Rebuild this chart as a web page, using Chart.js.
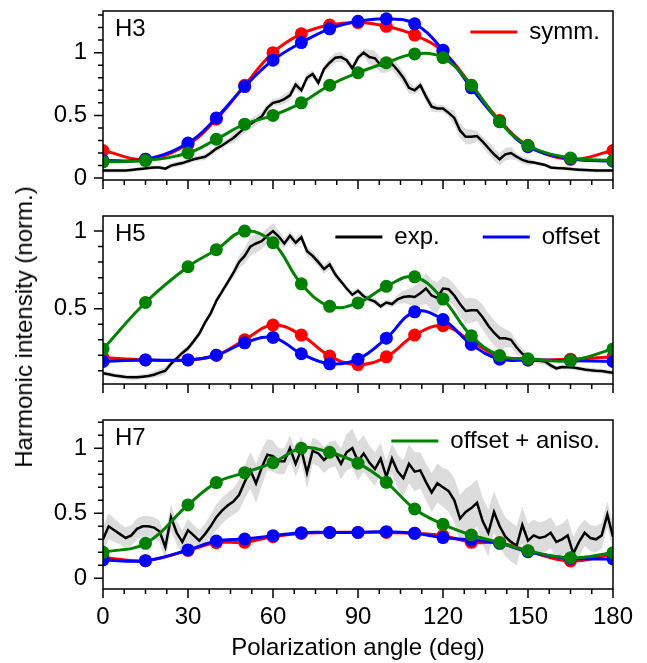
<!DOCTYPE html>
<html>
<head>
<meta charset="utf-8">
<script src="https://cdn.jsdelivr.net/npm/chart.js@4.4.1/dist/chart.umd.min.js"></script>
<style>
  body { margin: 0; background: #fff; }
  #wrap { position: relative; width: 647px; height: 663px; overflow: hidden; }
  .panel { position: absolute; left: 0; width: 647px; }
  .panel canvas { display: block; }
  #ytitle {
    position: absolute; left: 24px; top: 327px;
    transform: translate(-50%, -50%) rotate(-90deg);
    font: 24px "Liberation Sans", Arial, sans-serif; color: #000; white-space: nowrap;
  }
</style>
</head>
<body>
<div id="wrap">
  <div class="panel" style="top:0px"><canvas id="h3" width="647" height="195"></canvas></div>
  <div class="panel" style="top:200px"><canvas id="h5" width="647" height="199"></canvas></div>
  <div class="panel" style="top:405px"><canvas id="h7" width="647" height="258"></canvas></div>
  <div id="ytitle">Harmonic intensity (norm.)</div>
</div>
<script>
// angles of the model points (deg)
const markerAngles = [0, 15, 30, 40, 50, 60, 70, 80, 90, 100, 110, 120, 130, 140, 150, 165, 180];

// angles of the measured curve (deg)
const expAngles = [
  0, 2, 4, 6, 8, 10, 12, 14, 16, 18,
  20, 22, 24, 26, 28, 30, 32, 34, 36, 38,
  40, 42, 44, 46, 48, 50, 52, 54, 56, 58,
  60, 62, 64, 66, 68, 70, 72, 74, 76, 78,
  80, 82, 84, 86, 88, 90, 92, 94, 96, 98,
  100, 102, 104, 106, 108, 110, 112, 114, 116, 118,
  120, 122, 124, 126, 128, 130, 132, 134, 136, 138,
  140, 142, 144, 146, 148, 150, 152, 154, 156, 158,
  160, 162, 164, 166, 168, 170, 172, 174, 176, 178,
  180
];

// ---- H3 ----
const symmH3   = [0.22, 0.15, 0.27, 0.47, 0.74, 1.0, 1.15, 1.22, 1.24, 1.21, 1.14, 1.01, 0.74, 0.46, 0.26, 0.15, 0.22];
const offsetH3 = [0.14, 0.15, 0.28, 0.48, 0.73, 0.94, 1.08, 1.19, 1.25, 1.27, 1.23, 1.02, 0.72, 0.45, 0.25, 0.155, 0.135];
const anisoH3  = [0.13, 0.14, 0.2, 0.31, 0.43, 0.5, 0.6, 0.74, 0.84, 0.92, 0.99, 0.96, 0.74, 0.45, 0.26, 0.16, 0.14];
const expH3 = [
  0.06, 0.06, 0.06, 0.06, 0.06, 0.065, 0.07, 0.075, 0.08, 0.085,
  0.085, 0.075, 0.1, 0.11, 0.12, 0.135, 0.15, 0.16, 0.17, 0.2,
  0.235, 0.26, 0.29, 0.32, 0.36, 0.4, 0.43, 0.46, 0.49, 0.56,
  0.6, 0.61, 0.63, 0.66, 0.745, 0.7, 0.8, 0.83, 0.76, 0.87,
  0.92, 0.96, 0.965, 0.94, 0.875, 0.96, 1.0, 0.965, 0.955, 0.9,
  0.88, 0.91, 0.86, 0.8, 0.72, 0.7, 0.74, 0.65, 0.57, 0.555,
  0.555, 0.52, 0.48, 0.38, 0.33, 0.33, 0.335, 0.29, 0.24, 0.19,
  0.15, 0.19, 0.2, 0.17, 0.145, 0.13, 0.125, 0.115, 0.105, 0.085,
  0.08, 0.078, 0.075, 0.07, 0.067, 0.065, 0.062, 0.06, 0.06, 0.06,
  0.06
];
const spreadH3 = [
  0.015, 0.015, 0.015, 0.015, 0.015, 0.015, 0.015, 0.015, 0.015, 0.015,
  0.015, 0.015, 0.02, 0.02, 0.02, 0.02, 0.02, 0.02, 0.025, 0.025,
  0.025, 0.025, 0.025, 0.04, 0.04, 0.04, 0.04, 0.04, 0.04, 0.03,
  0.03, 0.03, 0.04, 0.04, 0.04, 0.03, 0.03, 0.03, 0.03, 0.03,
  0.04, 0.04, 0.04, 0.03, 0.03, 0.03, 0.03, 0.06, 0.06, 0.06,
  0.04, 0.05, 0.05, 0.05, 0.05, 0.03, 0.04, 0.04, 0.04, 0.03,
  0.03, 0.03, 0.06, 0.06, 0.06, 0.06, 0.04, 0.04, 0.05, 0.05,
  0.05, 0.05, 0.05, 0.03, 0.03, 0.03, 0.015, 0.015, 0.015, 0.015,
  0.015, 0.015, 0.015, 0.015, 0.015, 0.015, 0.015, 0.015, 0.015, 0.015,
  0.015
];

// ---- H5 ----
const symmH5   = [0.185, 0.17, 0.17, 0.2, 0.3, 0.395, 0.33, 0.195, 0.14, 0.19, 0.33, 0.39, 0.29, 0.19, 0.17, 0.175, 0.19];
const offsetH5 = [0.16, 0.17, 0.17, 0.2, 0.28, 0.315, 0.21, 0.145, 0.175, 0.31, 0.48, 0.43, 0.27, 0.175, 0.17, 0.165, 0.16];
const anisoH5  = [0.24, 0.54, 0.77, 0.88, 1.0, 0.925, 0.66, 0.515, 0.537, 0.644, 0.705, 0.562, 0.325, 0.198, 0.177, 0.166, 0.241];
const expH5 = [
  0.085, 0.078, 0.07, 0.065, 0.06, 0.058, 0.058, 0.062, 0.066, 0.075,
  0.088, 0.1, 0.145, 0.18, 0.215, 0.245, 0.29, 0.34, 0.41, 0.47,
  0.55, 0.61, 0.67, 0.73, 0.8, 0.84, 0.9, 0.92, 0.935, 0.97,
  1.0, 0.965, 0.92, 0.97, 0.925, 0.96, 0.87, 0.84, 0.8, 0.755,
  0.785, 0.72, 0.675, 0.63, 0.59, 0.615, 0.58, 0.56, 0.545, 0.515,
  0.54, 0.53, 0.56, 0.575, 0.58, 0.575, 0.6, 0.63, 0.585, 0.57,
  0.63, 0.625, 0.585, 0.53, 0.485, 0.49, 0.49, 0.445, 0.39, 0.345,
  0.31, 0.31, 0.3, 0.25, 0.21, 0.19, 0.17, 0.165, 0.16, 0.135,
  0.116, 0.125, 0.123, 0.121, 0.115, 0.108, 0.104, 0.1, 0.098, 0.093,
  0.088
];
const spreadH5 = [
  0.015, 0.015, 0.015, 0.015, 0.015, 0.015, 0.015, 0.015, 0.015, 0.02,
  0.025, 0.025, 0.02, 0.02, 0.02, 0.02, 0.02, 0.02, 0.02, 0.02,
  0.02, 0.02, 0.02, 0.03, 0.04, 0.05, 0.06, 0.06, 0.05, 0.05,
  0.05, 0.04, 0.03, 0.03, 0.03, 0.03, 0.03, 0.03, 0.03, 0.03,
  0.03, 0.03, 0.02, 0.02, 0.02, 0.02, 0.02, 0.02, 0.02, 0.02,
  0.02, 0.02, 0.03, 0.04, 0.05, 0.07, 0.08, 0.1, 0.1, 0.1,
  0.08, 0.07, 0.07, 0.08, 0.08, 0.08, 0.07, 0.08, 0.08, 0.08,
  0.08, 0.06, 0.05, 0.04, 0.03, 0.02, 0.02, 0.02, 0.02, 0.02,
  0.015, 0.015, 0.015, 0.015, 0.015, 0.015, 0.015, 0.015, 0.015, 0.015,
  0.015
];

// ---- H7 ----
const symmH7   = [0.16, 0.136, 0.215, 0.274, 0.277, 0.32, 0.345, 0.353, 0.353, 0.353, 0.346, 0.328, 0.277, 0.274, 0.21, 0.133, 0.185];
const offsetH7 = [0.141, 0.136, 0.218, 0.287, 0.302, 0.328, 0.351, 0.353, 0.353, 0.359, 0.346, 0.313, 0.295, 0.269, 0.205, 0.154, 0.149];
const anisoH7  = [0.2, 0.269, 0.564, 0.736, 0.812, 0.889, 1.0, 0.969, 0.885, 0.738, 0.533, 0.415, 0.333, 0.274, 0.212, 0.158, 0.197];
const expH7 = [
  0.30, 0.40, 0.37, 0.34, 0.31, 0.33, 0.38, 0.40, 0.40, 0.39,
  0.36, 0.24, 0.47, 0.35, 0.28, 0.37, 0.33, 0.29, 0.34, 0.40,
  0.47, 0.52, 0.56, 0.59, 0.64, 0.74, 0.83, 0.73, 0.85, 0.95,
  0.94, 0.90, 0.90, 1.00, 0.88, 0.99, 0.81, 0.98, 0.96, 0.91,
  0.95, 0.96, 0.88, 0.97, 1.00, 0.90, 0.96, 0.89, 0.84, 0.92,
  0.78, 0.92, 0.82, 0.77, 0.88, 0.82, 0.83, 0.74, 0.66, 0.73,
  0.70, 0.67, 0.60, 0.46, 0.51, 0.54, 0.58, 0.44, 0.35, 0.51,
  0.40, 0.32, 0.28, 0.25, 0.41, 0.29, 0.33, 0.31, 0.32, 0.35,
  0.28, 0.30, 0.33, 0.19, 0.28, 0.35, 0.31, 0.30, 0.33, 0.49,
  0.32
];
const spreadH7 = [
  0.1, 0.1, 0.09, 0.08, 0.08, 0.08, 0.08, 0.08, 0.08, 0.08,
  0.08, 0.1, 0.1, 0.09, 0.09, 0.09, 0.08, 0.08, 0.08, 0.09,
  0.1, 0.1, 0.1, 0.1, 0.12, 0.13, 0.14, 0.15, 0.14, 0.12,
  0.12, 0.1, 0.1, 0.1, 0.1, 0.1, 0.12, 0.1, 0.1, 0.1,
  0.1, 0.1, 0.12, 0.14, 0.15, 0.15, 0.14, 0.13, 0.13, 0.12,
  0.12, 0.12, 0.13, 0.14, 0.15, 0.15, 0.14, 0.14, 0.15, 0.15,
  0.15, 0.16, 0.17, 0.18, 0.18, 0.18, 0.18, 0.18, 0.18, 0.16,
  0.16, 0.15, 0.15, 0.15, 0.14, 0.13, 0.12, 0.12, 0.12, 0.12,
  0.12, 0.12, 0.13, 0.13, 0.12, 0.1, 0.1, 0.1, 0.1, 0.1,
  0.1
];

// tick labels
const xTickLabels = [0, 30, 60, 90, 120, 150, 180];
const yTicksH3 = [0, 0.5, 1];
const yTicksH5 = [0.5, 1];
const yTicksH7 = [0, 0.5, 1];

const RED = '#ff0000';
const BLUE = '#0000ff';
const GREEN = '#008000';
const BAND = '#dcdcdc';
const FONT = '"Liberation Sans", Arial, sans-serif';
const FSIZE = 24;

function pts(xs, ys) {
  return xs.map((x, i) => ({ x: x, y: ys[i] }));
}

function modelSet(label, ys, color, order) {
  return {
    label: label,
    data: pts(markerAngles, ys),
    borderColor: color,
    backgroundColor: color,
    borderWidth: 3,
    pointRadius: 6.5,
    pointHoverRadius: 6.5,
    pointBorderWidth: 0,
    pointBackgroundColor: color,
    tension: 0.4,
    fill: false,
    clip: 0,
    order: order
  };
}

function panelDatasets(exp, spread, symm, offset, aniso) {
  const lo = exp.map((v, i) => v - spread[i]);
  const hi = exp.map((v, i) => v + spread[i]);
  return [
    { label: 'lo', data: pts(expAngles, lo), borderWidth: 0, pointRadius: 0, fill: false, clip: 0, order: 6 },
    { label: 'hi', data: pts(expAngles, hi), borderWidth: 0, pointRadius: 0, fill: '-1', backgroundColor: BAND, clip: 0, order: 5 },
    { label: 'exp.', data: pts(expAngles, exp), borderColor: '#000', borderWidth: 2.5, pointRadius: 0, fill: false, clip: 0, tension: 0, order: 4 },
    modelSet('symm.', symm, RED, 3),
    modelSet('offset', offset, BLUE, 2),
    modelSet('offset + aniso.', aniso, GREEN, 1)
  ];
}

// frame, minor/major ticks, panel label and legend
const framePlugin = {
  id: 'frame',
  afterDatasetsDraw(chart, args, opts) {
    const ctx = chart.ctx;
    const a = chart.chartArea;
    const x = chart.scales.x;
    const y = chart.scales.y;
    ctx.save();
    ctx.strokeStyle = '#000';
    ctx.lineWidth = 1.5;
    ctx.strokeRect(a.left, a.top, a.right - a.left, a.bottom - a.top);

    ctx.beginPath();
    for (let k = 0; k <= 24; k++) {
      const px = x.getPixelForValue(k * 7.5);
      const len = k % 4 === 0 ? 9 : 5;
      ctx.moveTo(px, a.bottom);
      ctx.lineTo(px, a.bottom + len);
    }
    for (let k = Math.ceil(y.min * 10 - 1e-6); k <= Math.floor(y.max * 10 + 1e-6); k++) {
      const py = y.getPixelForValue(k / 10);
      const len = k % 5 === 0 ? 9 : 5;
      ctx.moveTo(a.left, py);
      ctx.lineTo(a.left - len, py);
    }
    ctx.stroke();

    ctx.font = FSIZE + 'px ' + FONT;
    ctx.fillStyle = '#000';
    ctx.textBaseline = 'middle';
    ctx.textAlign = 'left';
    ctx.fillText(opts.label, a.left + 12, a.top + 18);

    // legend entries, laid out from the right edge
    const ly = a.top + 21;
    let xr = a.right - 13;
    for (let i = opts.legend.length - 1; i >= 0; i--) {
      const e = opts.legend[i];
      const w = ctx.measureText(e.text).width;
      const tx = xr - w;
      ctx.fillStyle = '#000';
      ctx.fillText(e.text, tx, ly);
      ctx.strokeStyle = e.color;
      ctx.lineWidth = 3;
      ctx.beginPath();
      ctx.moveTo(tx - 12 - 47, ly);
      ctx.lineTo(tx - 12, ly);
      ctx.stroke();
      xr = tx - 12 - 47 - 43;
    }
    ctx.restore();
  }
};

function makeChart(id, cfg) {
  return new Chart(document.getElementById(id), {
    type: 'line',
    data: { datasets: cfg.datasets },
    options: {
      responsive: false,
      animation: false,
      events: [],
      layout: { padding: { top: cfg.padTop, left: 0, right: 34, bottom: 0 } },
      plugins: {
        legend: { display: false },
        tooltip: { enabled: false },
        filler: { drawTime: 'beforeDatasetsDraw' },
        frame: { label: cfg.label, legend: cfg.legend }
      },
      scales: {
        x: {
          type: 'linear',
          min: 0,
          max: 180,
          grid: { display: false, drawTicks: false },
          border: { display: false },
          afterBuildTicks: s => { s.ticks = xTickLabels.map(v => ({ value: v })); },
          afterFit: s => {
            s.height = cfg.xHeight;
            s.paddingLeft = 0;
            s.paddingRight = 0;
          },
          ticks: {
            display: cfg.showX,
            padding: 14,
            maxRotation: 0,
            autoSkip: false,
            color: '#000',
            font: { size: FSIZE, family: FONT }
          },
          title: {
            display: cfg.showX,
            text: 'Polarization angle (deg)',
            color: '#000',
            font: { size: FSIZE, family: FONT },
            padding: { top: 4, bottom: 0 }
          }
        },
        y: {
          type: 'linear',
          min: cfg.yMin,
          max: cfg.yMax,
          grid: { display: false, drawTicks: false },
          border: { display: false },
          afterBuildTicks: s => { s.ticks = cfg.yTicks.map(v => ({ value: v })); },
          afterFit: s => {
            s.width = 103;
            s.paddingTop = 0;
            s.paddingBottom = 0;
          },
          ticks: {
            padding: 16,
            color: '#000',
            font: { size: FSIZE, family: FONT },
            callback: v => String(v)
          }
        }
      }
    },
    plugins: [framePlugin]
  });
}

makeChart('h3', {
  datasets: panelDatasets(expH3, spreadH3, symmH3, offsetH3, anisoH3),
  label: 'H3',
  legend: [{ text: 'symm.', color: RED }],
  yMin: -0.015, yMax: 1.332, yTicks: yTicksH3,
  padTop: 11, xHeight: 15, showX: false
});

makeChart('h5', {
  datasets: panelDatasets(expH5, spreadH5, symmH5, offsetH5, anisoH5),
  label: 'H5',
  legend: [{ text: 'exp.', color: '#000' }, { text: 'offset', color: BLUE }],
  yMin: 0.015, yMax: 1.097, yTicks: yTicksH5,
  padTop: 16, xHeight: 15, showX: false
});

makeChart('h7', {
  datasets: panelDatasets(expH7, spreadH7, symmH7, offsetH7, anisoH7),
  label: 'H7',
  legend: [{ text: 'offset + aniso.', color: GREEN }],
  yMin: -0.082, yMax: 1.217, yTicks: yTicksH7,
  padTop: 15, xHeight: 74, showX: true
});
</script>
</body>
</html>
